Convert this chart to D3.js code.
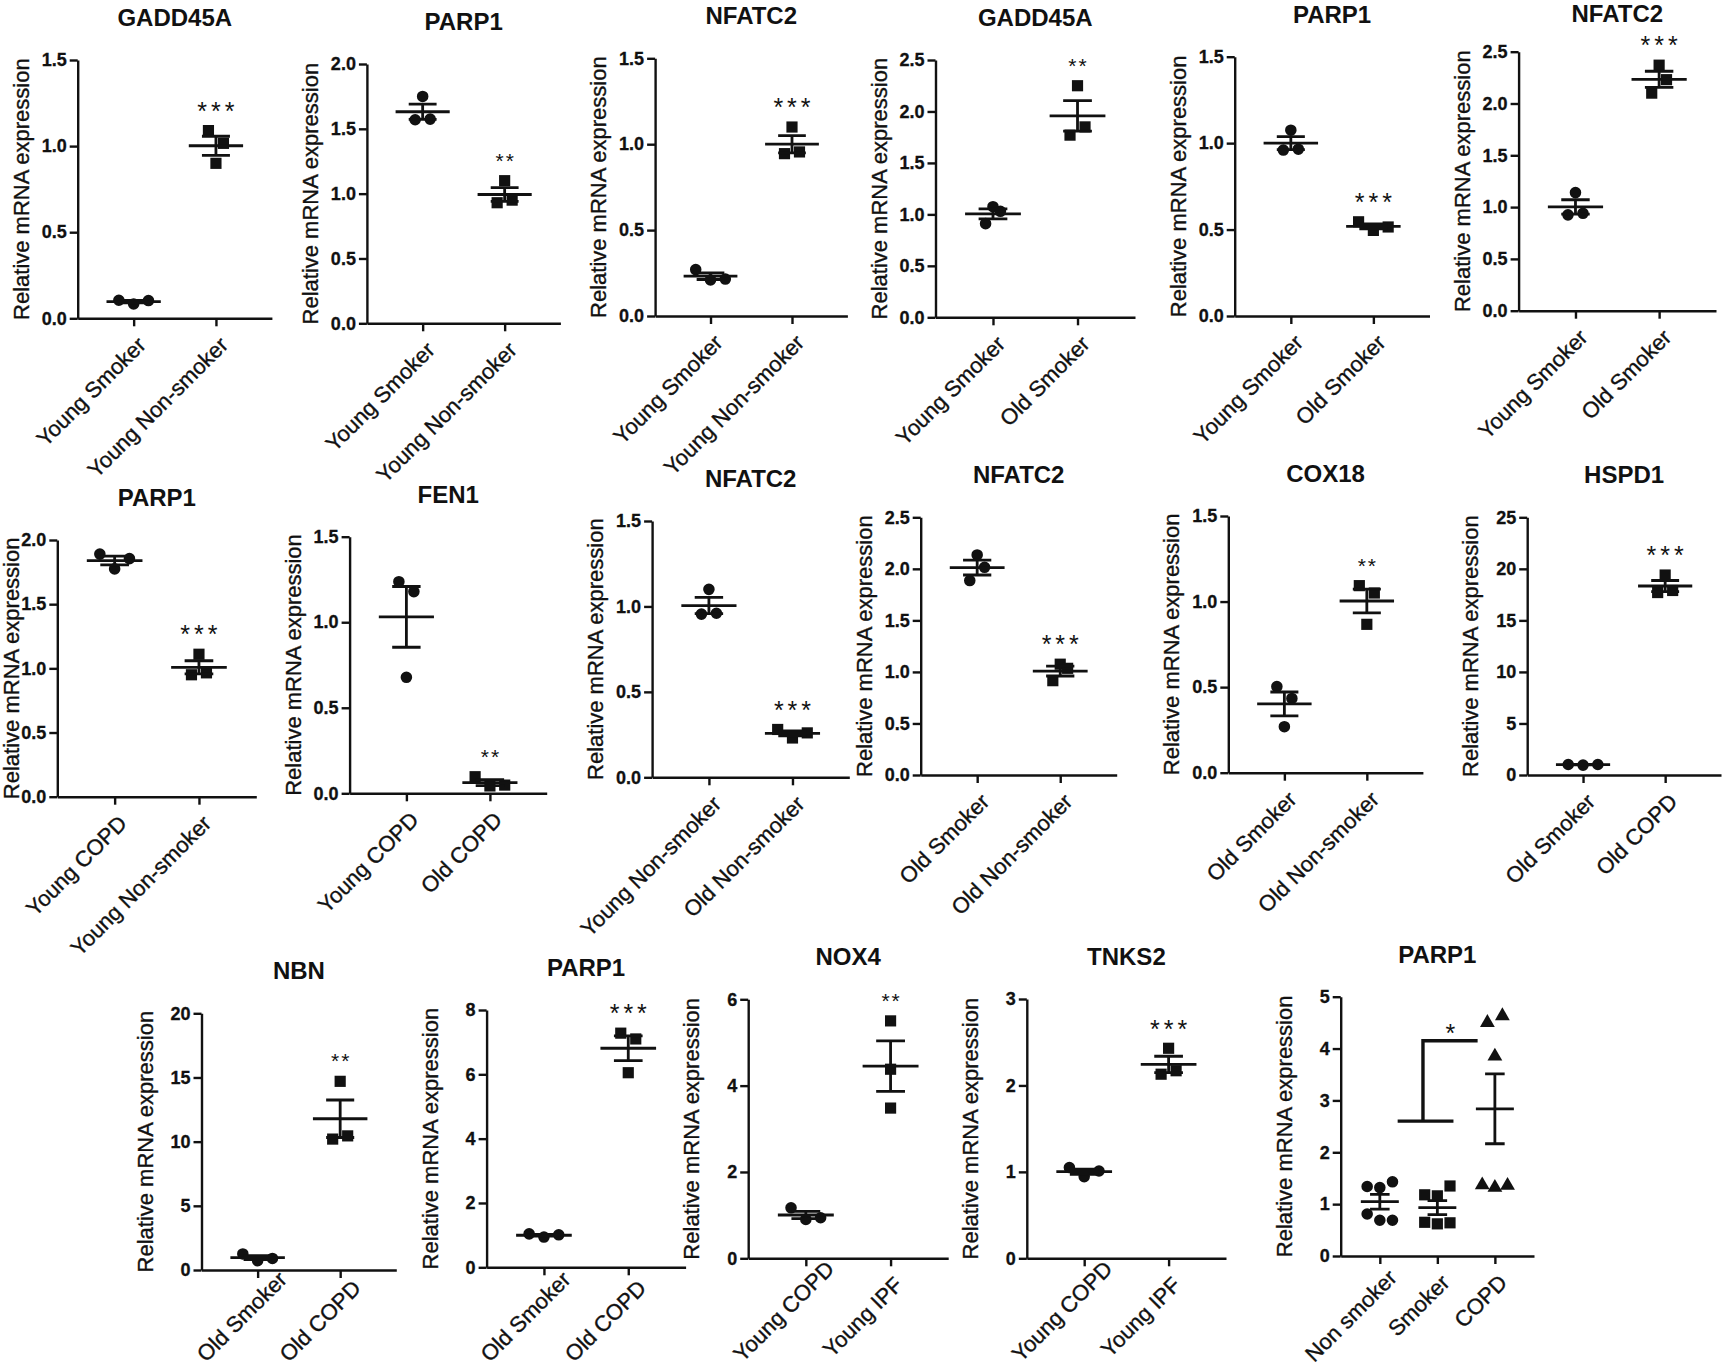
<!DOCTYPE html>
<html>
<head>
<meta charset="utf-8">
<script src="https://cdn.jsdelivr.net/npm/d3@7"></script>
<style>
body{margin:0;background:#fff}
svg{display:block;font-family:"Liberation Sans",Arial,sans-serif}
</style>
</head>
<body>
<svg width="1722" height="1369"></svg>
<script>
// ---- data ----
var titles = ['GADD45A','PARP1','NFATC2','GADD45A','PARP1','NFATC2',
              'PARP1','FEN1','NFATC2','NFATC2','COX18','HSPD1',
              'NBN','PARP1','NOX4','TNKS2','PARP1']

var groupNames = [
    ['Young Smoker','Young Non-smoker'], ['Young Smoker','Young Non-smoker'], ['Young Smoker','Young Non-smoker'],
    ['Young Smoker','Old Smoker'], ['Young Smoker','Old Smoker'], ['Young Smoker','Old Smoker'],
    ['Young COPD','Young Non-smoker'], ['Young COPD','Old COPD'], ['Young Non-smoker','Old Non-smoker'],
    ['Old Smoker','Old Non-smoker'], ['Old Smoker','Old Non-smoker'], ['Old Smoker','Old COPD'],
    ['Old Smoker','Old COPD'], ['Old Smoker','Old COPD'], ['Young COPD','Young IPF'],
    ['Young COPD','Young IPF'], ['Non smoker','Smoker','COPD']
]

var yMax  = [1.5, 2, 1.5, 2.5, 1.5, 2.5, 2, 1.5, 1.5, 2.5, 1.5, 25, 20, 8, 6, 3, 5]
var yStep = [0.5, 0.5, 0.5, 0.5, 0.5, 0.5, 0.5, 0.5, 0.5, 0.5, 0.5, 5, 5, 2, 2, 1, 1]
var sigMarks = ['***','**','***','**','***','***','***','**','***','***','**','***','**','***','**','***','*']

var v01 = [[0.105, 0.083, 0.103], [1.09, 1.016, 0.90]]
var v02 = [[1.57, 1.75, 1.575], [0.93, 1.10, 0.95]]
var v03 = [[0.27, 0.21, 0.215], [0.945, 1.10, 0.955]]
var v04 = [[0.91, 1.075, 1.03], [1.77, 2.25, 1.85]]
var v05 = [[0.96, 1.075, 0.965], [0.545, 0.495, 0.515]]
var v06 = [[0.925, 1.14, 0.94], [2.10, 2.37, 2.23]]
var v07 = [[1.89, 1.775, 1.855], [0.95, 1.11, 0.965]]
var v08 = [[1.237, 1.179, 0.678], [0.097, 0.043, 0.048]]
var v09 = [[0.955, 1.10, 0.96], [0.28, 0.23, 0.26]]
var v10 = [[1.886, 2.135, 2.015], [0.915, 1.075, 1.035]]
var v11 = [[0.503, 0.434, 0.269], [1.093, 1.05, 0.867]]
var v12 = [[1.02, 0.96, 1.02], [17.7, 19.4, 17.9]]
var v13 = [[1.25, 0.72, 0.9], [10.2, 14.7, 10.45]]
var v14 = [[1.04, 0.94, 1.01], [7.28, 7.1, 6.05]]
var v15 = [[1.17, 0.9, 0.94], [5.5, 4.38, 3.48]]
var v16 = [[1.05, 0.945, 1.01], [2.13, 2.43, 2.17]]
var v17 = [[1.34, 1.32, 1.43, 0.81, 0.69, 0.69],
           [1.18, 1.16, 1.35, 0.65, 0.62, 0.64],
           [4.50, 4.63, 3.85, 1.37, 1.32, 1.36]]
var bracketLevels = [2.6, 4.15]   // last panel: Non smoker+Smoker vs COPD

var allValues = [v01,v02,v03,v04,v05,v06,v07,v08,v09,v10,v11,v12,v13,v14,v15,v16,v17]

// ---- layout: [y-axis x, y of top tick, y of zero, end of x-axis] ----
var boxes = [
    [77.7, 60, 318.3, 271.9], [366.9, 64, 323.3, 560.4], [655.1, 58.3, 316, 847.4],
    [935.5, 60, 317.3, 1135], [1234.7, 56.7, 316, 1429.5], [1518.6, 51.7, 310.7, 1716],
    [57.3, 540, 796.7, 256.3], [349.6, 536.7, 793.3, 546.7], [652.1, 521, 777.3, 849.3],
    [920.7, 517.3, 775, 1116.7], [1228.3, 516, 772.7, 1422.9], [1527.2, 517.3, 775, 1721],
    [201.5, 1013.3, 1270, 396.3], [486.6, 1010, 1267.3, 685.6], [748.2, 999.3, 1258.3, 948.2],
    [1026.8, 999, 1258.3, 1226], [1340.7, 996.7, 1256, 1534]
]

var ink = '#111',
    H = 1369,
    shapes = [d3.symbolCircle, d3.symbolSquare, d3.symbolTriangle],
    shapeSize = [105, 125, 95]

var svg = d3.select('svg')

titles.forEach((t,i)=>drawPanel({
    title: t, groups: groupNames[i], max: yMax[i], step: yStep[i],
    values: allValues[i], sig: sigMarks[i], box: boxes[i]
}))

function drawPanel(p){
    var ax = p.box[0], top = p.box[1], y0 = p.box[2], xe = p.box[3]
    var y = d3.scaleLinear().domain([0, p.max]).range([y0, top])
    var x = d3.scalePoint().domain(p.groups).range([ax, xe]).padding(0.68)
    var band = x.step()
    var g = svg.append('g')

    g.append('text')
        .attr('x', (ax + xe)/2).attr('y', Math.max(top - 34, 22))
        .attr('text-anchor','middle').attr('font-size',24).attr('font-weight','bold')
        .attr('fill', ink).text(p.title)

    g.append('text')
        .attr('transform', `translate(${Math.max(ax - 49, 19)},${(y0 + top)/2}) rotate(-90)`)
        .attr('text-anchor','middle').attr('font-size',22).attr('fill', ink)
        .attr('stroke', ink).attr('stroke-width',0.35)
        .text('Relative mRNA expression')

    var yAxis = d3.axisLeft(y)
        .tickValues(d3.range(0, p.max + p.step/2, p.step))
        .tickFormat(p.step < 1 ? d3.format('.1f') : d3.format('d'))
        .tickSize(8).tickSizeOuter(0).tickPadding(3)
    g.append('g').attr('transform', `translate(${ax},0)`).call(yAxis).call(styleAxis)
        .selectAll('text').attr('font-size',18).attr('font-weight','bold')
        .attr('stroke', ink).attr('stroke-width',0.3)

    var xAxis = d3.axisBottom(x).tickSize(8).tickSizeOuter(0)
    g.append('g').attr('transform', `translate(0,${y0})`).call(xAxis).call(styleAxis)
        .selectAll('text')
        .attr('x',0).attr('y',0).attr('dy',0)
        .attr('text-anchor','end').attr('font-size',22)
        .attr('stroke', ink).attr('stroke-width',0.35)
        .attr('transform', function(){
            // slide along the baseline if the label would run off the bottom
            var L = this.getComputedTextLength()
            var s = Math.max(0, y0 + 28 + 0.707*L + 4 - (H - 2))
            return `translate(${13 + s},${28 - s}) rotate(-45)`
        })

    p.values.forEach((vals, gi)=>{
        var cx = x(p.groups[gi])
        var off = spread(vals, y, Math.min(14.8, band*0.22))
        g.selectAll(null).data(vals).enter().append('path')
            .attr('d', d3.symbol().type(shapes[gi]).size(shapeSize[gi]))
            .attr('transform', (d,k)=>`translate(${cx + off[k]},${y(d)})`)
            .attr('fill', ink)

        var m = d3.mean(vals), sem = d3.deviation(vals)/Math.sqrt(vals.length)
        var wm = band*0.33, ws = band*0.17
        g.append('path')
            .attr('d', `M${cx-wm},${y(m)}H${cx+wm}` +
                       `M${cx},${y(m-sem)}V${y(m+sem)}` +
                       `M${cx-ws},${y(m+sem)}H${cx+ws}` +
                       `M${cx-ws},${y(m-sem)}H${cx+ws}`)
            .attr('stroke', ink).attr('stroke-width',2.8).attr('fill','none')
    })

    if (p.groups.length == 2){
        var top2 = y(d3.max(p.values[1])) - 25
        addStars(g, p.sig, x(p.groups[1]), top2)
    } else {
        var xs = x(p.groups[0]), xc = x(p.groups[2])
        var yl = y(bracketLevels[0]), yt = y(bracketLevels[1]), vx = xs + 0.75*band
        g.append('path')
            .attr('d', `M${xs + 0.31*band},${yl}H${xs + 1.28*band}M${vx},${yl}V${yt}H${xc - 0.3*band}`)
            .attr('stroke', ink).attr('stroke-width',3.4).attr('fill','none')
        addStars(g, p.sig, (vx + xc - 0.3*band)/2, yt - 13)
    }
}

function addStars(g, s, cx, cy){
    var fs = s == '**' ? 21 : 25, ls = s == '***' ? 4 : 2
    g.append('text')
        .attr('x', cx + ls/2).attr('y', cy + 0.57*fs)
        .attr('text-anchor','middle').attr('font-size',fs)
        .attr('letter-spacing', ls).attr('fill', ink).text(s)
}

function styleAxis(sel){
    sel.attr('font-family', null).attr('font-size', null)
    sel.select('.domain').attr('stroke', ink).attr('stroke-width',2.4)
    sel.selectAll('.tick line').attr('stroke', ink).attr('stroke-width',2.4)
    sel.selectAll('.tick text').attr('fill', ink)
}

// horizontal spread of points that would overlap (GraphPad-like scatter)
function spread(vals, y, tight){
    var order = d3.range(vals.length).sort((a,b)=>vals[a] - vals[b])
    var clusters = [], cur = [order[0]]
    for (var k = 1; k < order.length; k++){
        if (Math.abs(y(vals[order[k]]) - y(vals[order[k-1]])) < 15) cur.push(order[k])
        else { clusters.push(cur); cur = [order[k]] }
    }
    clusters.push(cur)
    var off = vals.map(()=>0)
    clusters.forEach(c=>{
        c.sort((a,b)=>a - b)
        var ext = d3.extent(c, i=>y(vals[i]))
        var s = c.length == 2 ? 15 : (ext[1] - ext[0] < 15.5 ? tight : 7.4)
        c.forEach((i,k)=> off[i] = (k - (c.length - 1)/2)*s)
    })
    return off
}
</script>
</body>
</html>
